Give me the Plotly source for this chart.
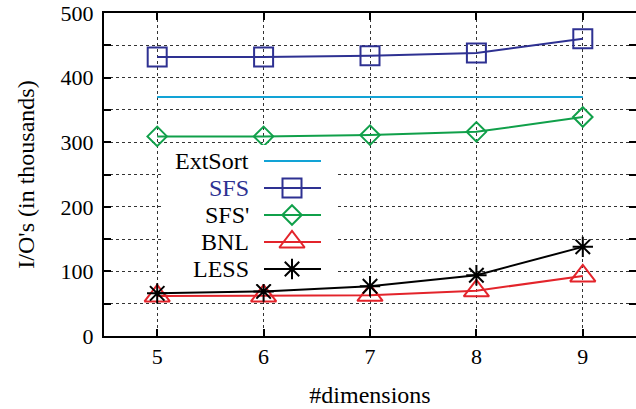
import plotly.graph_objects as go

# ---- data ----
dims = [5, 6, 7, 8, 9]
extsort = [370, 370, 370, 370, 370]
sfs = [432, 432, 434, 438, 460]
sfs_prime = [309, 309, 311, 316, 339]
bnl = [62, 62, 63, 70, 93]
less = [66, 69, 77, 94, 138]
y_ticks = [0, 100, 200, 300, 400, 500]
x_ticks = [5, 6, 7, 8, 9]

# ---- styles ----
FONT = "Liberation Serif, Times New Roman, serif"
C_EXT = "#12a3d6"
C_SFS = "#2e3192"
C_SFSP = "#10a04a"
C_BNL = "#e3242b"
C_LESS = "#000000"

series = [
    ("ExtSort", extsort, C_EXT, None, 0, "#000000"),
    ("SFS", sfs, C_SFS, "square-open", 19, C_SFS),
    ("SFS'", sfs_prime, C_SFSP, "diamond-open", 15, "#000000"),
    ("BNL", bnl, C_BNL, "triangle-up-open", 22, "#000000"),
    ("LESS", less, C_LESS, "asterisk-open", 17, "#000000"),
]

W, H = 636, 409
L, R, T, B = 104, 0, 13, 73

fig = go.Figure()

for name, vals, col, sym, size, _ in series:
    if sym is None:
        fig.add_trace(go.Scatter(x=dims, y=vals, mode="lines", name=name,
                                 line=dict(color=col, width=2), showlegend=False))
    else:
        fig.add_trace(go.Scatter(x=dims, y=vals, mode="lines+markers", name=name,
                                 line=dict(color=col, width=2),
                                 marker=dict(symbol=sym, size=size, color=col,
                                             line=dict(color=col, width=2)),
                                 showlegend=False))

# invisible trace to instantiate right-side tick axis
fig.add_trace(go.Scatter(x=[dims[0]], y=[y_ticks[0]], yaxis="y2", mode="markers",
                         marker=dict(opacity=0), showlegend=False, hoverinfo="skip"))

# ---- manual legend (text left, sample right) on a pixel overlay axis ----
bx0, bx1, by0, by1 = 161, 335, 145, 284
fig.add_trace(go.Scatter(x=[bx0, bx1, bx1, bx0, bx0], y=[by0, by0, by1, by1, by0],
                         mode="lines", fill="toself", fillcolor="white",
                         line=dict(width=0, color="white"), xaxis="x3", yaxis="y3",
                         showlegend=False, hoverinfo="skip"))

leg_rows = [161, 188, 215, 242, 269]
leg_text_x = 251
leg_line_x = [264, 321]
leg_mark_x = 292
for (name, vals, col, sym, size, tcol), yy in zip(series, leg_rows):
    fig.add_trace(go.Scatter(x=leg_line_x, y=[yy, yy], mode="lines",
                             line=dict(color=col, width=2), xaxis="x3", yaxis="y3",
                             showlegend=False, hoverinfo="skip"))
    if sym is not None:
        fig.add_trace(go.Scatter(x=[leg_mark_x], y=[yy], mode="markers",
                                 marker=dict(symbol=sym, size=size, color=col,
                                             line=dict(color=col, width=2)),
                                 xaxis="x3", yaxis="y3", showlegend=False, hoverinfo="skip"))
    fig.add_annotation(x=leg_text_x, y=yy, xref="x3", yref="y3", text=name,
                       showarrow=False, xanchor="right", yanchor="middle",
                       font=dict(family=FONT, size=24, color=tcol))

grid = dict(gridcolor="#333333", gridwidth=1, griddash="3px,3px")

fig.update_layout(
    width=W, height=H,
    margin=dict(l=L, r=R, t=T, b=B, autoexpand=False),
    paper_bgcolor="white", plot_bgcolor="white",
    font=dict(family=FONT, size=22, color="black"),
    showlegend=False,
    xaxis=dict(range=[4.5, 9.5], tickvals=x_ticks, showgrid=True, **grid,
               ticks="inside", ticklen=7, tickwidth=2, tickcolor="black",
               showline=True, linewidth=2, linecolor="black", mirror="ticks",
               zeroline=False, tickfont=dict(family=FONT, size=22), automargin=False,
               title=dict(text="#dimensions", font=dict(family=FONT, size=24), standoff=18)),
    yaxis=dict(range=[0, 500], tickvals=y_ticks, showgrid=False,
               ticks="inside", ticklen=7, tickwidth=2, tickcolor="black",
               minor=dict(dtick=50, tick0=0, ticks="inside", ticklen=7, tickwidth=2,
                          tickcolor="black", showgrid=True, **grid),
               showline=True, linewidth=2, linecolor="black", mirror=False,
               zeroline=False, tickfont=dict(family=FONT, size=22), automargin=False,
               ticklabelstandoff=4,
               title=dict(text="I/O's (in thousands)", font=dict(family=FONT, size=24), standoff=19)),
    yaxis2=dict(range=[0, 500], overlaying="y", side="right", anchor="x",
                tickvals=y_ticks, showticklabels=False, showgrid=False, zeroline=False,
                ticks="inside", ticklen=7, tickwidth=2, tickcolor="black",
                minor=dict(dtick=50, tick0=0, ticks="inside", ticklen=7, tickwidth=2,
                           tickcolor="black", showgrid=False),
                showline=False, automargin=False),
    xaxis3=dict(range=[L, W - R], overlaying="x", visible=False, fixedrange=True),
    yaxis3=dict(range=[H - B, T], overlaying="y", visible=False, fixedrange=True),
)

fig.write_html("out.html", config={"displayModeBar": False},
               post_script="document.body.style.margin='0';")
